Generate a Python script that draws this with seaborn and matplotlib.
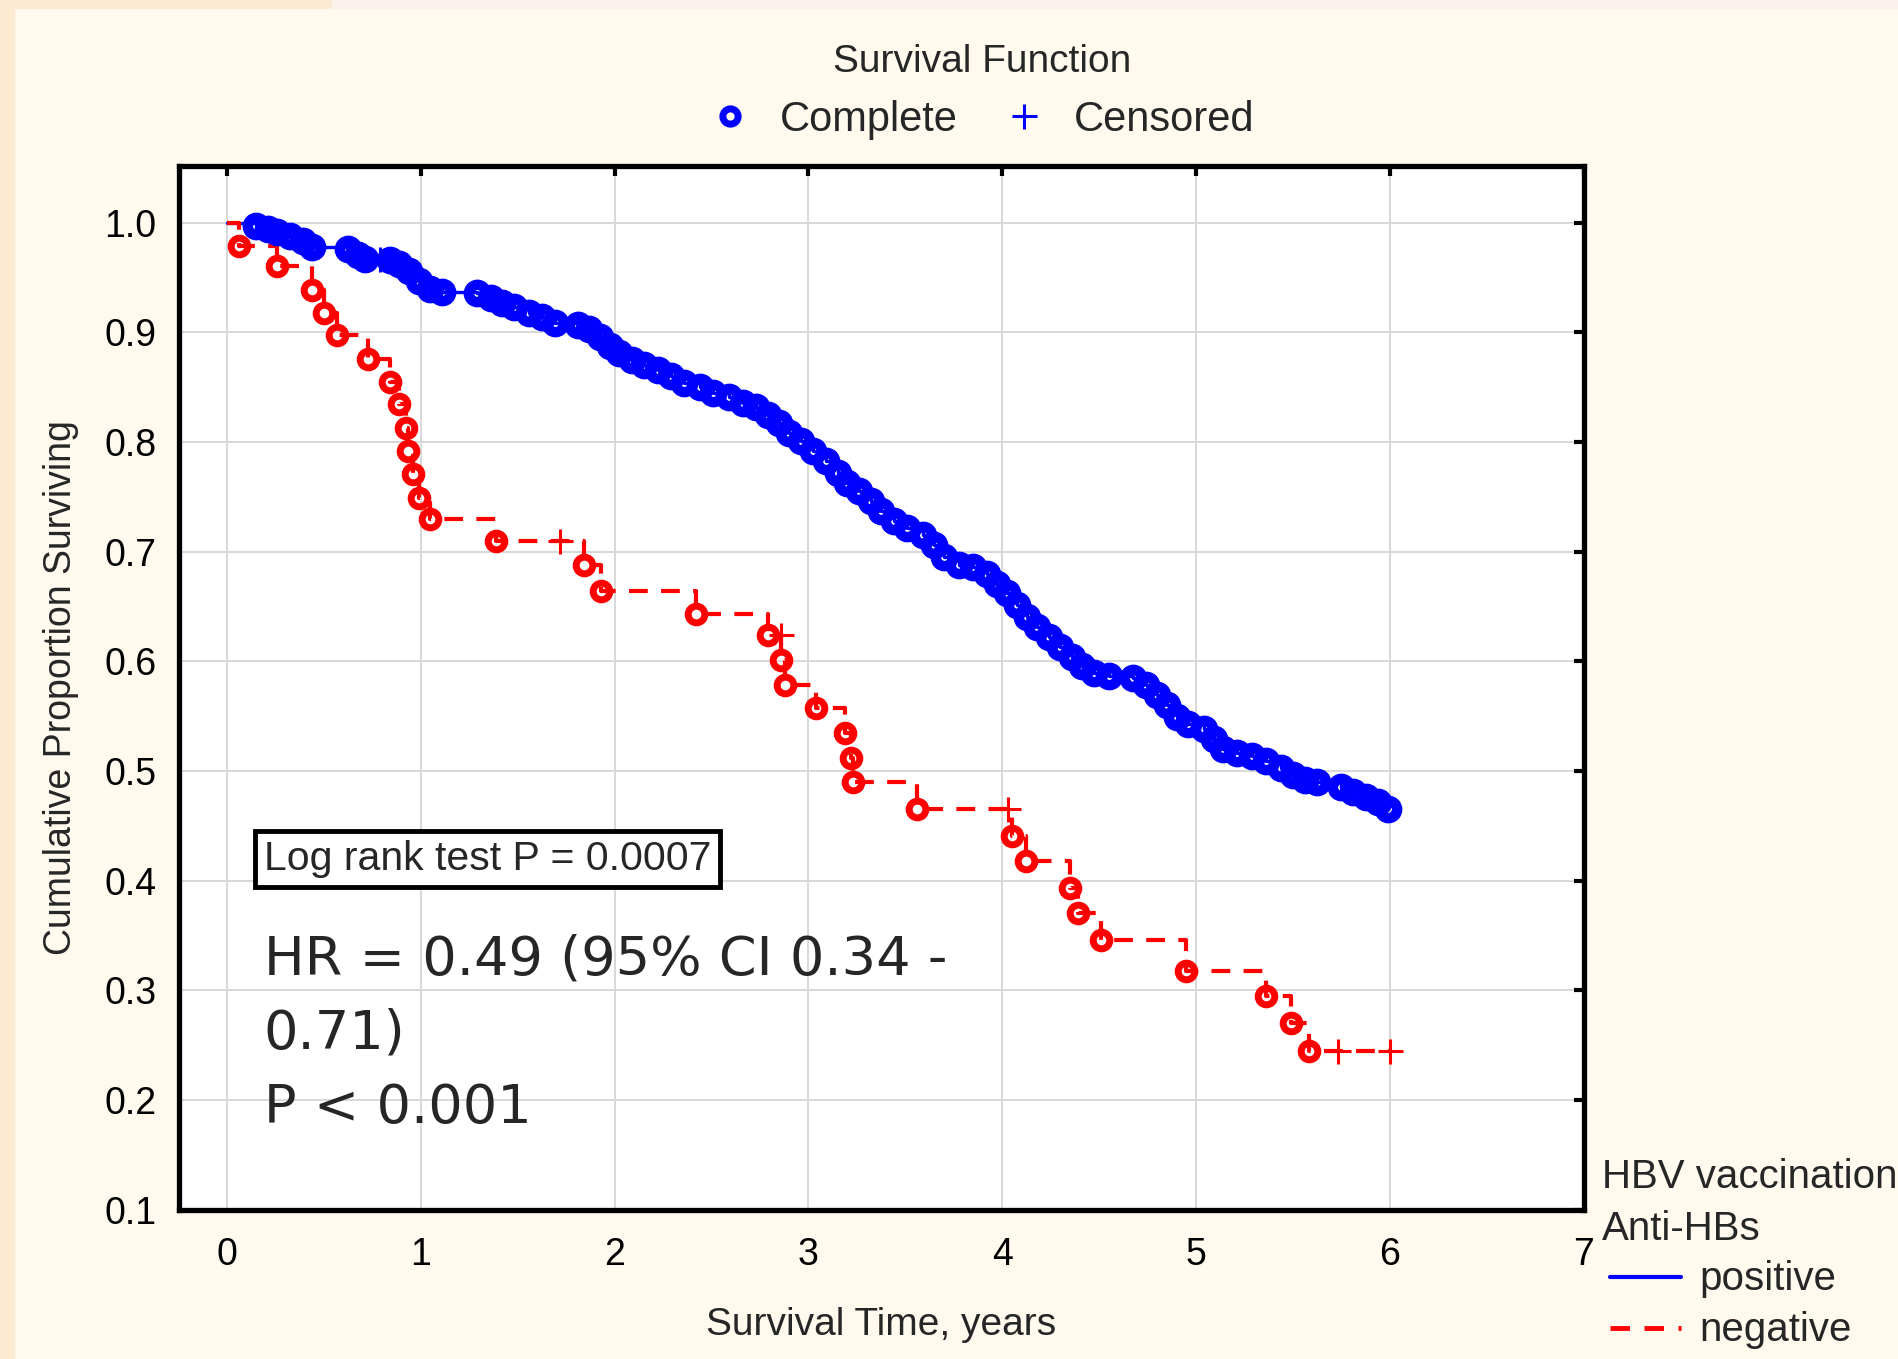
import matplotlib
matplotlib.use('Agg')
import matplotlib.pyplot as plt
from matplotlib.lines import Line2D
from matplotlib.patches import Rectangle
import seaborn as sns

# Kaplan-Meier curves (time in years, proportion surviving)
blue_t = [0.15, 0.21, 0.26, 0.325, 0.39, 0.44, 0.625, 0.675, 0.71, 0.84, 0.89, 0.94,
          0.99, 1.05, 1.11, 1.29, 1.36, 1.42, 1.48, 1.56, 1.625, 1.69, 1.81, 1.87,
          1.925, 1.975, 2.025, 2.09, 2.15, 2.225, 2.29, 2.36, 2.44, 2.51, 2.59, 2.66,
          2.73, 2.79, 2.85, 2.9, 2.96, 3.025, 3.09, 3.15, 3.2, 3.26, 3.325, 3.375,
          3.44, 3.51, 3.59, 3.65, 3.7, 3.775, 3.85, 3.92, 3.975, 4.025, 4.075, 4.125,
          4.18, 4.24, 4.3, 4.36, 4.41, 4.475, 4.55, 4.675, 4.74, 4.8, 4.85, 4.9,
          4.96, 5.04, 5.09, 5.14, 5.21, 5.29, 5.36, 5.44, 5.5, 5.56, 5.625, 5.75,
          5.81, 5.875, 5.94, 5.99]
blue_s = [0.997, 0.994, 0.992, 0.988, 0.983, 0.978, 0.976, 0.971, 0.967, 0.966, 0.962, 0.956,
          0.947, 0.940, 0.937, 0.936, 0.931, 0.927, 0.923, 0.918, 0.914, 0.909, 0.907, 0.903,
          0.896, 0.888, 0.881, 0.875, 0.870, 0.866, 0.860, 0.854, 0.850, 0.845, 0.841, 0.836,
          0.832, 0.825, 0.817, 0.808, 0.801, 0.792, 0.783, 0.772, 0.763, 0.755, 0.746, 0.737,
          0.728, 0.722, 0.715, 0.706, 0.695, 0.688, 0.686, 0.680, 0.671, 0.662, 0.651, 0.640,
          0.631, 0.622, 0.613, 0.604, 0.596, 0.589, 0.587, 0.585, 0.578, 0.569, 0.560, 0.549,
          0.543, 0.538, 0.529, 0.520, 0.516, 0.514, 0.509, 0.503, 0.496, 0.492, 0.490, 0.485,
          0.481, 0.476, 0.472, 0.465]
blue_cens_t = [0.79]
blue_cens_s = [0.967]

red_t = [0.06, 0.26, 0.44, 0.50, 0.57, 0.73, 0.84, 0.89, 0.925, 0.935, 0.96, 0.99, 1.05,
         1.39, 1.84, 1.93, 2.42, 2.79, 2.86, 2.88, 3.04, 3.19, 3.22, 3.23, 3.56,
         4.05, 4.12, 4.35, 4.39, 4.51, 4.95, 5.36, 5.49, 5.58]
red_s = [0.979, 0.961, 0.939, 0.918, 0.898, 0.876, 0.855, 0.835, 0.813, 0.792, 0.771, 0.749, 0.730,
         0.710, 0.688, 0.664, 0.643, 0.624, 0.601, 0.578, 0.557, 0.535, 0.512, 0.490, 0.465,
         0.441, 0.418, 0.393, 0.370, 0.346, 0.318, 0.295, 0.270, 0.245]
red_cens_t = [1.72, 2.86, 4.03, 5.73, 6.0]
red_cens_s = [0.710, 0.624, 0.465, 0.245, 0.245]

x_ticks = [0, 1, 2, 3, 4, 5, 6, 7]
y_ticks = [0.1, 0.2, 0.3, 0.4, 0.5, 0.6, 0.7, 0.8, 0.9, 1.0]

BLUE = '#0000FF'
RED = '#FF0000'
BG = '#FFF9EE'

sns.set_style('white')
plt.rcParams['font.family'] = ['Liberation Sans', 'DejaVu Sans']

fig = plt.figure(figsize=(18.99, 13.59), dpi=100, facecolor=BG)
ax = fig.add_axes([0.094, 0.110, 0.740, 0.768])
ax.set_facecolor('white')

# page edges of the slide
fig.patches.append(Rectangle((0, 0), 14 / 1899, 1, transform=fig.transFigure,
                             color='#FCEAD3', zorder=0))
fig.patches.append(Rectangle((0, 1 - 8 / 1359), 332 / 1899, 8 / 1359, transform=fig.transFigure,
                             color='#FCEAD3', zorder=0))
fig.patches.append(Rectangle((332 / 1899, 1 - 8 / 1359), 1, 8 / 1359, transform=fig.transFigure,
                             color='#FDF1EE', zorder=0))

# step curves (start at 1.0, carry on to last censored time)
bx = [0.0] + blue_t
by = [1.0] + blue_s
rx = [0.0] + red_t + [red_cens_t[-1]]
ry = [1.0] + red_s + [red_s[-1]]

sns.lineplot(x=bx, y=by, ax=ax, color=BLUE, lw=2.4, drawstyle='steps-post',
             estimator=None, sort=False, zorder=3)
sns.lineplot(x=rx, y=ry, ax=ax, color=RED, lw=3, drawstyle='steps-post',
             estimator=None, sort=False, zorder=4)
ax.lines[-1].set_dashes([4.5, 3.2])

ax.plot(blue_t, blue_s, ls='none', marker='o', ms=12.5, mfc='none', mec=BLUE, mew=7.5, zorder=5)
ax.plot(red_t, red_s, ls='none', marker='o', ms=12, mfc='none', mec=RED, mew=5, zorder=6)
ax.plot(blue_cens_t, blue_cens_s, ls='none', marker='+', ms=18, mec=BLUE, mew=2.2, zorder=5)
ax.plot(red_cens_t, red_cens_s, ls='none', marker='+', ms=18, mec=RED, mew=2.2, zorder=6)

ax.set_xlim(-0.25, 7)
ax.set_ylim(0.1, 1.052)
ax.set_xticks(x_ticks)
ax.set_yticks(y_ticks)
ax.set_xticklabels([str(v) for v in x_ticks])
ax.set_yticklabels([f'{v:.1f}' for v in y_ticks])
ax.grid(True, color='#D8D8D8', lw=1.4)
ax.tick_params(direction='in', top=True, right=True, length=7, width=3, labelsize=27,
               colors='black')
ax.tick_params(axis='x', pad=20)
ax.tick_params(axis='y', pad=16)
for sp in ax.spines.values():
    sp.set_visible(True)
    sp.set_color('black')
    sp.set_linewidth(3.8)

ax.set_xlabel('Survival Time, years', fontsize=28, labelpad=24)
ax.set_ylabel('Cumulative Proportion Surviving', fontsize=27, labelpad=18)

# statistics annotations
ax.text(0.19, 0.4195, 'Log rank test P = 0.0007', fontsize=29.5, va='center', ha='left',
        bbox=dict(boxstyle='square,pad=0.22', fc='white', ec='black', lw=3.5), zorder=7)
ax.text(0.19, 0.352, 'HR = 0.49 (95% CI 0.34 -\n0.71)\nP < 0.001', fontsize=39,
        family='DejaVu Sans', va='top', ha='left', linespacing=1.55, zorder=7)

# top legend
handles = [Line2D([], [], ls='none', marker='o', ms=11, mfc='none', mec=BLUE, mew=5),
           Line2D([], [], ls='none', marker='+', ms=18, mec=BLUE, mew=2.2)]
leg = fig.legend(handles, ['Complete', 'Censored'], title='Survival Function', ncol=2,
                 loc='upper center', bbox_to_anchor=(0.517, 0.995), frameon=False,
                 fontsize=30, title_fontsize=28, handletextpad=0.7, columnspacing=1.1,
                 handlelength=1.0)
leg._legend_box.sep = 14

# group legend bottom right
fig.text(0.8436, 0.134, 'HBV vaccination', fontsize=29, va='center', ha='left')
fig.text(0.8436, 0.0955, 'Anti-HBs', fontsize=29, va='center', ha='left')
fig.text(0.8947, 0.059, 'positive', fontsize=29, va='center', ha='left')
fig.text(0.8947, 0.0214, 'negative', fontsize=29, va='center', ha='left')
fig.add_artist(Line2D([0.848, 0.885], [0.060, 0.060], transform=fig.transFigure,
                      color=BLUE, lw=3))
neg = Line2D([0.848, 0.885], [0.0225, 0.0225], transform=fig.transFigure, color=RED, lw=3.5)
neg.set_dashes([4, 3])
fig.add_artist(neg)

fig.savefig('out.png', dpi=100, facecolor=BG)
